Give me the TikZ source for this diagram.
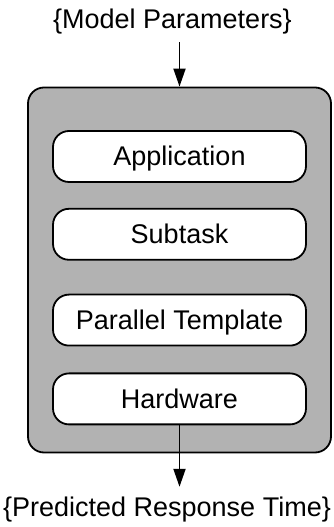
\documentclass[tikz,border=0pt]{standalone}
\usepackage{fontspec}
\setmainfont{Liberation Sans}
\usetikzlibrary{arrows.meta,positioning}
\tikzset{
  frame/.style={
  draw,
  line width=1.8pt,
  fill=black!30,
  rounded corners=16pt,
  minimum width=303pt,
  minimum height=365pt,
  },
  layer/.style={
  draw,
  line width=1.8pt,
  fill=white,
  rounded corners=16pt,
  minimum width=253pt,
  minimum height=51pt,
  inner sep=0pt,
  text height=19pt,
  text depth=0pt,
  font=\fontsize{27}{31}\selectfont,
  },
  iotext/.style={
  inner sep=0pt,
  font=\fontsize{27}{31}\selectfont,
  },
}

\begin{document}
\begin{tikzpicture}[
  >={Triangle[length=18pt,width=12pt]},
  line width=1.8pt
  ]
\useasboundingbox (0,0) rectangle (333pt,527pt);

% the model box
\node[frame](frame) at (179.5pt,257pt){};

% the four layers
\node[layer, below = 43.5pt of frame.north](app){Application};
\node[layer, below = 25pt of app](sub){Subtask};
\node[layer, below = 33pt of sub](tmpl){Parallel Template};
\node[layer, below = 26pt of tmpl](hw){Hardware};

% input and output
\node[iotext, above = 58pt of frame.north, anchor=base, xshift=-7pt](params){\{Model Parameters\}};
\node[iotext, below = 91pt of hw.south, anchor=base, xshift=-12.5pt](resp){\{Predicted Response Time\}};

% arrows in and out
\draw[->, shorten <=13.5pt] (params.base -| frame.north) -- (frame.north);
\draw[->, shorten >=29.5pt] (hw.south) -- (hw.south |- resp.base);

\end{tikzpicture}
\end{document}
